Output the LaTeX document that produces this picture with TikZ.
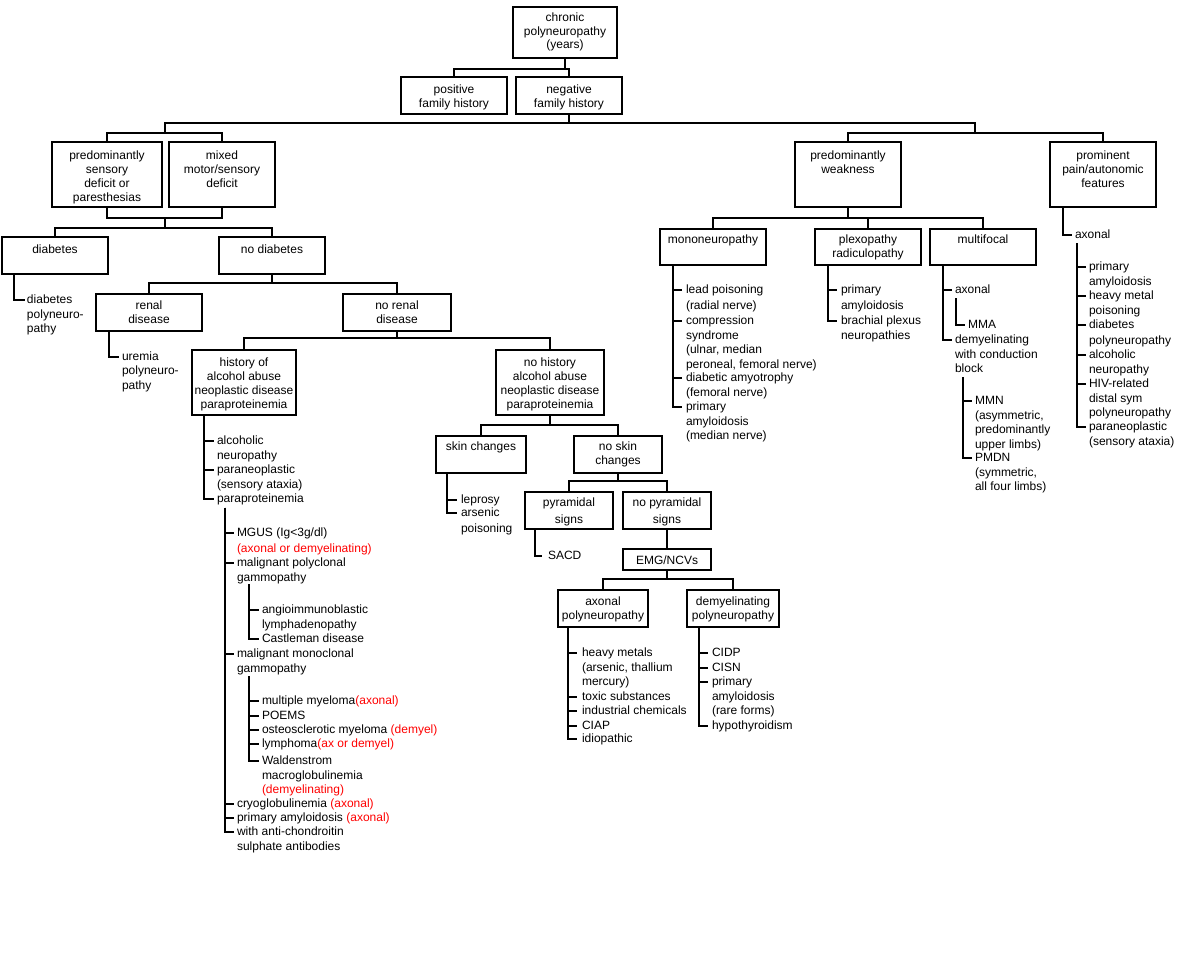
\documentclass[tikz,border=0pt]{standalone}
\usepackage{fontspec}
\setmainfont{Liberation Sans}
\newcommand\myfr{\rule{0pt}{10pt}}
\newcommand\bxt[4]{\parbox[t][#2pt][t]{#1pt}{\centering\rule{0pt}{#3pt}#4}}
\begin{document}
\begin{tikzpicture}[x=1pt,y=-1pt,
  bx/.style={draw, line width=2pt, inner sep=0pt, outer sep=0pt, anchor=north west, font=\fontsize{12}{14}\selectfont},
  lst/.style={anchor=north west, inner sep=0pt, outer sep=0pt, align=left, font=\fontsize{12}{14.5}\selectfont},
  con/.style={line width=2pt}]
\useasboundingbox (0,0) rectangle (1187,961);
\fill[white] (0,0) rectangle (1187,961);
% boxes
\node[bx] (chronic) at (513,7) {\bxt{104}{51}{14}{chronic\\polyneuropathy\\(years)}};
\node[bx] (pos) at (401,77) {\bxt{106}{37}{16}{positive\\family history}};
\node[bx] (neg) at (516,77) {\bxt{106}{37}{16}{negative\\family history}};
\node[bx] (sens) at (52,142) {\bxt{110}{65}{17}{predominantly\\sensory\\deficit or\\paresthesias}};
\node[bx] (mixed) at (169,142) {\bxt{106}{65}{17}{mixed\\motor/sensory\\deficit}};
\node[bx] (weak) at (795,142) {\bxt{106}{65}{17}{predominantly\\weakness}};
\node[bx] (pain) at (1050,142) {\bxt{106}{65}{17}{prominent\\pain/autonomic\\features}};
\node[bx] (diab) at (2,237) {\bxt{106}{37}{16}{diabetes}};
\node[bx] (nodiab) at (219,237) {\bxt{106}{37}{16}{no diabetes}};
\node[bx] (mono) at (660,229) {\bxt{106}{36}{14}{mononeuropathy}};
\node[bx] (plexo) at (815,229) {\bxt{106}{36}{14}{plexopathy\\radiculopathy}};
\node[bx] (multi) at (930,229) {\bxt{106}{36}{14}{multifocal}};
\node[bx] (renal) at (96,294) {\bxt{106}{37}{15}{renal\\disease}};
\node[bx] (norenal) at (343,294) {\bxt{108}{37}{15}{no renal\\disease}};
\node[bx] (hist) at (192,350) {\bxt{104}{65}{16}{history of\\alcohol abuse\\neoplastic disease\\paraproteinemia}};
\node[bx] (nohist) at (496,350) {\bxt{108}{65}{16}{no history\\alcohol abuse\\neoplastic disease\\paraproteinemia}};
\node[bx] (skin) at (436,436) {\bxt{90}{37}{14}{skin changes}};
\node[bx] (noskin) at (574,436) {\bxt{88}{37}{14}{no skin\\changes}};
\node[bx] (pyr) at (525,492) {\bxt{88}{37}{14}{pyramidal\\[3pt]signs}};
\node[bx] (nopyr) at (623,492) {\bxt{88}{37}{14}{no pyramidal\\[3pt]signs}};
\node[bx] (emg) at (623,549) {\bxt{88}{21}{15}{EMG/NCVs}};
\node[bx] (axp) at (558,590) {\bxt{90}{37}{15}{axonal\\polyneuropathy}};
\node[bx] (dmp) at (687,590) {\bxt{92}{37}{15}{demyelinating\\polyneuropathy}};
% tree connectors
\draw[con] (chronic.south) -- ++(0,11) -| (pos.north);
\draw[con] (chronic.south) -- ++(0,11) -| (neg.north);
\coordinate (jL) at (165,133);
\coordinate (jR) at (975,133);
\draw[con] (neg.south) -- ++(0,9) -| (jL) -| (sens.north);
\draw[con] (jL) -| (mixed.north);
\draw[con] (neg.south) -- ++(0,9) -| (jR) -| (weak.north);
\draw[con] (jR) -| (pain.north);
\coordinate (jB) at (165,218);
\coordinate (jD) at (165,228);
\draw[con] (sens.south) |- (jB) -| (mixed.south);
\draw[con] (jB) -- (jD) -| (diab.north);
\draw[con] (jD) -| (nodiab.north);
\draw[con] (nodiab.south) -- ++(0,9) -| (renal.north);
\draw[con] (nodiab.south) -- ++(0,9) -| (norenal.north);
\draw[con] (norenal.south) -- ++(0,7) -| (hist.north);
\draw[con] (norenal.south) -- ++(0,7) -| (nohist.north);
\draw[con] (nohist.south) -- ++(0,10) -| (skin.north);
\draw[con] (nohist.south) -- ++(0,10) -| (noskin.north);
\draw[con] (noskin.south) -- ++(0,8) -| (pyr.north);
\draw[con] (noskin.south) -- ++(0,8) -| (nopyr.north);
\draw[con] (nopyr.south) -- (emg.north);
\draw[con] (emg.south) -- ++(0,9) -| (axp.north);
\draw[con] (emg.south) -- ++(0,9) -| (dmp.north);
\draw[con] (weak.south) -- ++(0,11) -| (mono.north);
\draw[con] (weak.south) -- ++(0,11) -| (plexo.north);
\draw[con] (weak.south) -- ++(0,11) -| (multi.north);
% diabetes list
\node[lst] (dpn) at (27,293.5) {\myfr diabetes\\polyneuro-\\pathy};
\draw[con] ([xshift=12pt]diab.south west) |- ([shift={(-2pt,-6.5pt)}]dpn.north west);
% renal list
\node[lst] (urem) at (122,350) {\myfr uremia\\polyneuro-\\pathy};
\draw[con] ([xshift=13pt]renal.south west) |- ([shift={(-3pt,-6.5pt)}]urem.north west);
% history list
\node[lst] (alc) at (217,434.5) {\myfr alcoholic\\neuropathy};
\node[lst] (parn) at (217,463.5) {\myfr paraneoplastic\\(sensory ataxia)};
\node[lst] (parp) at (217,492.5) {\myfr paraproteinemia};
\foreach \n in {alc,parn,parp}
  \draw[con] ([xshift=12pt]hist.south west) |- ([shift={(-3pt,-6.5pt)}]\n.north west);
\coordinate (s1) at ([shift={(8pt,-3pt)}]parp.south west);
\node[lst] (mgus) at (237,526.5) {\myfr MGUS (Ig<3g/dl)};
\node[lst] (mgusr) at (237,542.5) {\myfr\textcolor{red}{(axonal or demyelinating)}};
\node[lst] (polyc) at (237,556.5) {\myfr malignant polyclonal\\gammopathy};
\node[lst] (monoc) at (237,647.5) {\myfr malignant monoclonal\\gammopathy};
\node[lst] (cryo) at (237,797.5) {\myfr cryoglobulinemia \textcolor{red}{(axonal)}};
\node[lst] (pamy) at (237,811.5) {\myfr primary amyloidosis \textcolor{red}{(axonal)}};
\node[lst] (chon) at (237,825.5) {\myfr with anti-chondroitin\\sulphate antibodies};
\foreach \n in {mgus,polyc,monoc,cryo,pamy,chon}
  \draw[con] (s1) |- ([shift={(-3pt,-6.5pt)}]\n.north west);
\coordinate (s2) at ([shift={(12pt,-1pt)}]polyc.south west);
\node[lst] (angio) at (262,603.5) {\myfr angioimmunoblastic\\lymphadenopathy};
\node[lst] (castle) at (262,632.5) {\myfr Castleman disease};
\foreach \n in {angio,castle}
  \draw[con] (s2) |- ([shift={(-3pt,-6.5pt)}]\n.north west);
\coordinate (s3) at ([shift={(12pt,-2pt)}]monoc.south west);
\node[lst] (mm) at (262,694.5) {\myfr multiple myeloma\textcolor{red}{(axonal)}};
\node[lst] (poems) at (262,709.5) {\myfr POEMS};
\node[lst] (osteo) at (262,723.5) {\myfr osteosclerotic myeloma \textcolor{red}{(demyel)}};
\node[lst] (lymph) at (262,737.5) {\myfr lymphoma\textcolor{red}{(ax or demyel)}};
\node[lst] (wald) at (262,754.5) {\myfr Waldenstrom\\macroglobulinemia\\\textcolor{red}{(demyelinating)}};
\foreach \n in {mm,poems,osteo,lymph,wald}
  \draw[con] (s3) |- ([shift={(-3pt,-6.5pt)}]\n.north west);
% skin list
\node[lst] (lep) at (461,493.5) {\myfr leprosy};
\node[lst] (ars) at (461,506.5) {\myfr arsenic\\[1.5pt]poisoning};
\foreach \n in {lep,ars}
  \draw[con] ([xshift=11pt]skin.south west) |- ([shift={(-4pt,-6.5pt)}]\n.north west);
% pyramidal list
\node[lst] (sacd) at (548,549.5) {\myfr SACD};
\draw[con] ([xshift=10pt]pyr.south west) |- ([shift={(-6pt,-6.5pt)}]sacd.north west);
% axonal polyneuropathy list
\node[lst] (hvy) at (582,646.5) {\myfr heavy metals\\(arsenic, thallium\\mercury)};
\node[lst] (toxic) at (582,690.5) {\myfr toxic substances};
\node[lst] (indus) at (582,704.5) {\myfr industrial chemicals};
\node[lst] (ciap) at (582,719.5) {\myfr CIAP};
\node[lst] (idio) at (582,732.5) {\myfr idiopathic};
\foreach \n in {hvy,toxic,indus,ciap,idio}
  \draw[con] ([xshift=10pt]axp.south west) |- ([shift={(-5pt,-6.5pt)}]\n.north west);
% demyelinating polyneuropathy list
\node[lst] (cidp) at (712,646.5) {\myfr CIDP};
\node[lst] (cisn) at (712,661.5) {\myfr CISN};
\node[lst] (pamyb) at (712,675.5) {\myfr primary\\amyloidosis\\(rare forms)};
\node[lst] (hypo) at (712,719.5) {\myfr hypothyroidism};
\foreach \n in {cidp,cisn,pamyb,hypo}
  \draw[con] ([xshift=12pt]dmp.south west) |- ([shift={(-4pt,-6.5pt)}]\n.north west);
% mononeuropathy list
\node[lst] (lead) at (686,283.5) {\myfr lead poisoning\\[1.5pt](radial nerve)};
\node[lst] (comp) at (686,314.5) {\myfr compression\\syndrome\\(ulnar, median\\peroneal, femoral nerve)};
\node[lst] (damy) at (686,371.5) {\myfr diabetic amyotrophy\\(femoral nerve)};
\node[lst] (pamyc) at (686,400.5) {\myfr primary\\amyloidosis\\(median nerve)};
\foreach \n in {lead,comp,damy,pamyc}
  \draw[con] ([xshift=13pt]mono.south west) |- ([shift={(-4pt,-6.5pt)}]\n.north west);
% plexopathy list
\node[lst] (pamyd) at (841,283.5) {\myfr primary\\[1.5pt]amyloidosis};
\node[lst] (brach) at (841,314.5) {\myfr brachial plexus\\neuropathies};
\foreach \n in {pamyd,brach}
  \draw[con] ([xshift=13pt]plexo.south west) |- ([shift={(-4pt,-6.5pt)}]\n.north west);
% multifocal list
\node[lst] (max) at (955,283.5) {\myfr axonal};
\node[lst] (mdem) at (955,333.5) {\myfr demyelinating\\with conduction\\block};
\foreach \n in {max,mdem}
  \draw[con] ([xshift=13pt]multi.south west) |- ([shift={(-3pt,-6.5pt)}]\n.north west);
\coordinate (s4) at ([shift={(1pt,-4.5pt)}]max.south west);
\node[lst] (mma) at (968,318.5) {\myfr MMA};
\draw[con] (s4) |- ([shift={(-3pt,-6.5pt)}]mma.north west);
\coordinate (s5) at ([shift={(8pt,-4.5pt)}]mdem.south west);
\node[lst] (mmn) at (975,394.5) {\myfr MMN\\(asymmetric,\\predominantly\\upper limbs)};
\node[lst] (pmdn) at (975,451.5) {\myfr PMDN\\(symmetric,\\all four limbs)};
\foreach \n in {mmn,pmdn}
  \draw[con] (s5) |- ([shift={(-3pt,-6.5pt)}]\n.north west);
% prominent pain list
\node[lst] (pax) at (1075,228.5) {\myfr axonal};
\draw[con] ([xshift=13pt]pain.south west) |- ([shift={(-3pt,-6.5pt)}]pax.north west);
\coordinate (s6) at ([shift={(2pt,-4.5pt)}]pax.south west);
\node[lst] (pa) at (1089,260.5) {\myfr primary\\amyloidosis};
\node[lst] (pb) at (1089,289.5) {\myfr heavy metal\\poisoning};
\node[lst] (pc) at (1089,318.5) {\myfr diabetes\\[1pt]polyneuropathy};
\node[lst] (pd) at (1089,348.5) {\myfr alcoholic\\neuropathy};
\node[lst] (pe) at (1089,377.5) {\myfr HIV-related\\distal sym\\polyneuropathy};
\node[lst] (pf) at (1089,420.5) {\myfr paraneoplastic\\(sensory ataxia)};
\foreach \n in {pa,pb,pc,pd,pe,pf}
  \draw[con] (s6) |- ([shift={(-3pt,-6.5pt)}]\n.north west);
\end{tikzpicture}
\end{document}
